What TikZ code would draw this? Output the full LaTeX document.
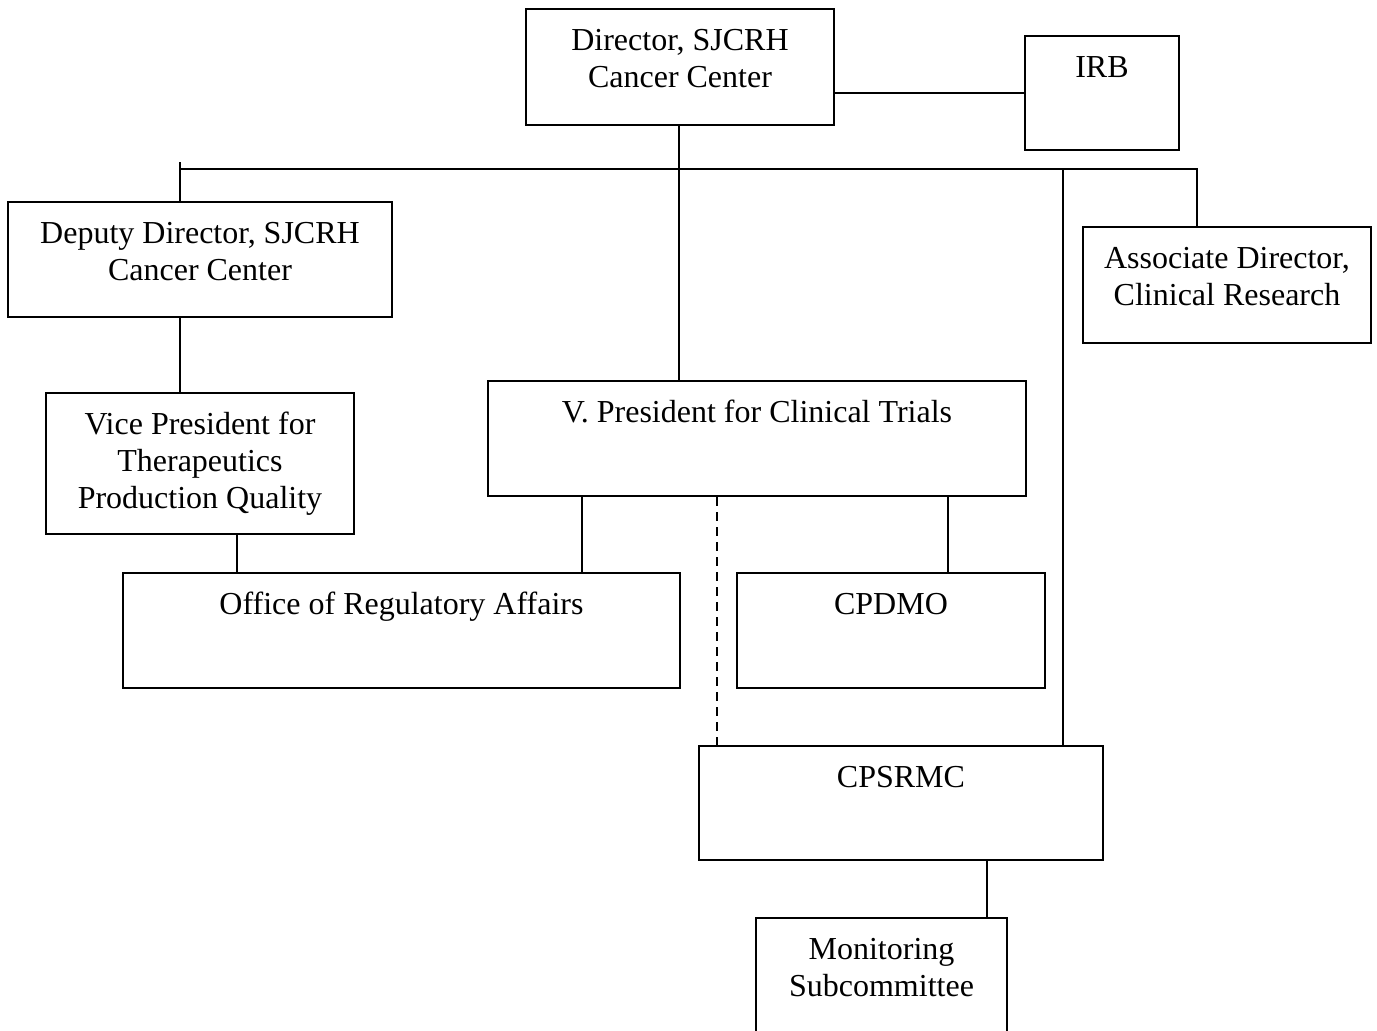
\documentclass[tikz,border=0pt]{standalone}
\usepackage{fontspec}
\setmainfont{Liberation Serif}
\newcommand\boxtext[3]{\parbox[t][#2pt][t]{#1pt}{\centering\vspace*{8pt}\strut#3}}
\tikzset{
  orgbox/.style={draw, line width=1pt, inner sep=0pt, anchor=north west, font=\fontsize{16}{18.5}\selectfont},
  link/.style={line width=1pt}
}
\begin{document}
\begin{tikzpicture}[x=0.5pt,y=-0.5pt]
        \useasboundingbox (0,0) rectangle (1377,1030);

        \node[orgbox] (director) at (525,8) {\boxtext{154}{58}{Director, SJCRH\\Cancer Center}};
        \node[orgbox] (irb) at (1024,35) {\boxtext{77}{57}{IRB}};
        \node[orgbox] (deputy) at (7,201) {\boxtext{192}{57.5}{Deputy Director, SJCRH\\Cancer Center}};
        \node[orgbox] (assoc) at (1082,226) {\boxtext{144}{58}{Associate Director,\\Clinical Research}};
        \node[orgbox] (vpt) at (45,392) {\boxtext{154}{70.5}{Vice President for\\Therapeutics\\Production Quality}};
        \node[orgbox] (vpct) at (487,380) {\boxtext{269}{57.5}{V. President for Clinical Trials}};
        \node[orgbox] (ora) at (122,572) {\boxtext{278.5}{57.5}{Office of Regulatory Affairs}};
        \node[orgbox] (cpdmo) at (736,572) {\boxtext{154}{57.5}{CPDMO}};
        \node[orgbox] (cpsrmc) at (698,745) {\boxtext{202}{57}{CPSRMC}};
        \node[orgbox] (monitor) at (755,917) {\boxtext{125.5}{70}{Monitoring\\Subcommittee}};

        \coordinate (busL) at (180,169);
        \coordinate (busR) at (1197,169);
        \coordinate (busC) at (1063,169);

        \draw[link] (director.east |- irb.west) -- (irb.west);
        \draw[link] (679,0 |- director.south) -- (679,0 |- vpct.north);
        \draw[link] (busL) -- (busR) -- (busR |- assoc.north);
        \draw[link] (180,162) -- (180,0 |- deputy.north);
        \draw[link] (busC) -- (busC |- cpsrmc.north);
        \draw[link] (180,0 |- deputy.south) -- (180,0 |- vpt.north);
        \draw[link] (237,0 |- vpt.south) -- (237,0 |- ora.north);
        \draw[link] (582,0 |- vpct.south) -- (582,0 |- ora.north);
        \draw[link] (948,0 |- vpct.south) -- (948,0 |- cpdmo.north);
        \draw[link, dash pattern=on 4.5pt off 3pt] (717,0 |- vpct.south) -- (717,0 |- cpsrmc.north);
        \draw[link] (987,0 |- cpsrmc.south) -- (987,0 |- monitor.north);

\end{tikzpicture}
\end{document}
